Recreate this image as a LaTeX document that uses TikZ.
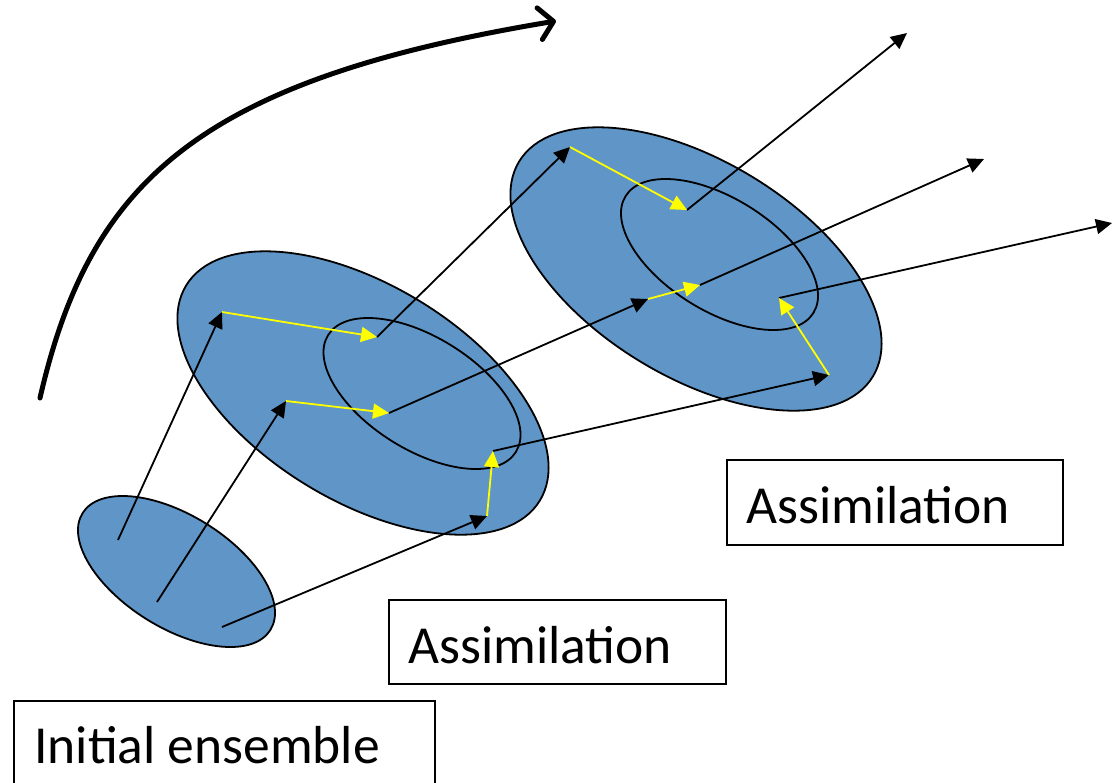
\documentclass[tikz,border=0pt]{standalone}
\usepackage{fontspec}
\setmainfont{Carlito}
\usetikzlibrary{arrows.meta}
\definecolor{ensblue}{RGB}{95,149,199}
\definecolor{yel}{RGB}{255,255,0}
\tikzset{
  ens/.style={draw=black, line width=1.8pt, fill=ensblue},
  inner/.style={draw=black, line width=1.8pt},
  fc/.style={draw=black, line width=1.8pt, -{Triangle[length=16pt,width=15pt]}},
  upd/.style={draw=yel, line width=1.8pt, -{Triangle[length=16pt,width=15pt]}},
  lbl/.style={draw=black, line width=1.6pt},
  lbltext/.style={anchor=base west, inner sep=0pt, font=\fontsize{53.5}{60}\selectfont},
  flow/.style={line width=5pt, line cap=round, -{Straight Barb[length=14pt,width=32pt,line cap=round,line join=round]}}
}
\begin{document}
\begin{tikzpicture}[x=1pt,y=-1pt]
\useasboundingbox (0,0) rectangle (1113,782);
% ensembles
\draw[ens, rotate around={-31.9:(176.5,571.5)}] (176.5,571.5) ellipse [x radius=110.6, y radius=56.3];
\draw[ens, rotate around={-31.3:(363,393)}] (363,393) ellipse [x radius=207, y radius=108];
\draw[inner, rotate around={-31.9:(422,393.5)}] (422,393.5) ellipse [x radius=110.6, y radius=56.3];
\draw[ens, rotate around={-31.3:(696,269)}] (696,269) ellipse [x radius=207, y radius=108];
\draw[inner, rotate around={-31.9:(719.5,254.5)}] (719.5,254.5) ellipse [x radius=110.6, y radius=56.3];
% member positions
\coordinate (s1) at (118,540);
\coordinate (s2) at (157,602);
\coordinate (s3) at (222,627);
\coordinate (m1) at (222,312);
\coordinate (m2) at (286,401);
\coordinate (m3) at (487,516);
\coordinate (n1) at (377,337);
\coordinate (n2) at (389,413);
\coordinate (n3) at (493,451);
\coordinate (r1) at (570,147);
\coordinate (r2) at (648,299);
\coordinate (r3) at (829,375);
\coordinate (q1) at (687,210);
\coordinate (q2) at (700,285);
\coordinate (q3) at (779,298);
\coordinate (e1) at (907,33);
\coordinate (e2) at (984,159);
\coordinate (e3) at (1112,223);
% forecasts
\draw[fc] (s1) -- (m1);
\draw[fc] (s2) -- (m2);
\draw[fc] (s3) -- (m3);
\draw[fc] (n1) -- (r1);
\draw[fc] (n2) -- (r2);
\draw[fc] (n3) -- (r3);
\draw[fc] (q1) -- (e1);
\draw[fc] (q2) -- (e2);
\draw[fc] (q3) -- (e3);
% analysis updates
\draw[upd] (m1) -- (n1);
\draw[upd] (m2) -- (n2);
\draw[upd] (m3) -- (n3);
\draw[upd] (r1) -- (q1);
\draw[upd] (r2) -- (q2);
\draw[upd] (r3) -- (q3);
% time arrow
\coordinate (t0) at (40,398);
\coordinate (t1) at (556,21);
\draw[flow] (t0) .. controls (90,180) and (200,80) .. (t1);
% labels
\draw[lbl] (389,600) rectangle (726,684);
\node[lbltext] (a1) at (408,663) {Assimilation};
\draw[lbl] (727,460) rectangle (1063,545);
\node[lbltext] (a2) at (746,523) {Assimilation};
\draw[lbl] (14,701) rectangle (435,800);
\node[lbltext] (init) at (34,763) {Initial ensemble};
\end{tikzpicture}
\end{document}
